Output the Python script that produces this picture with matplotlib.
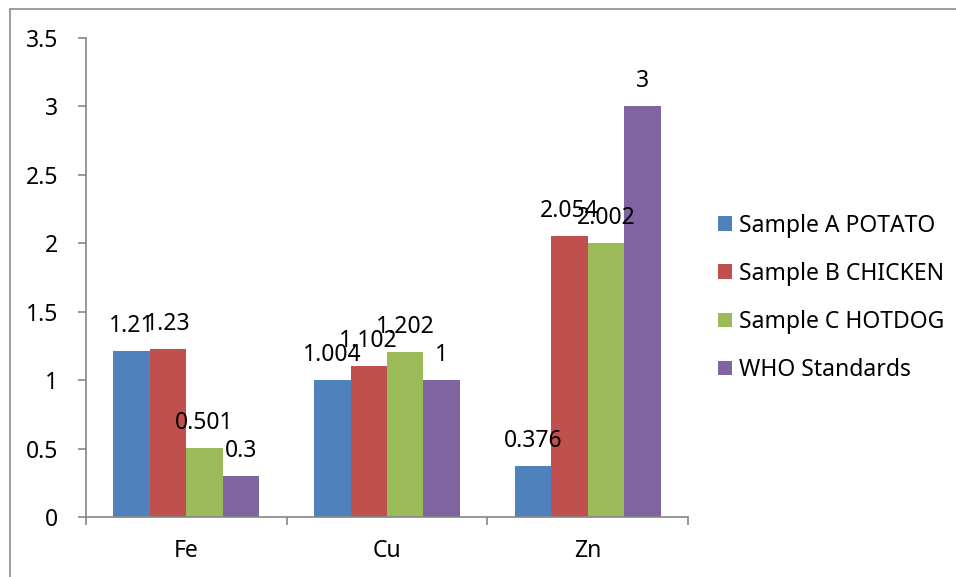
import matplotlib
matplotlib.use("Agg")
import matplotlib.pyplot as plt
import matplotlib.patches as mpatches
import numpy as np

plt.rcParams['font.family'] = ['Noto Sans', 'DejaVu Sans']

categories = ["Fe", "Cu", "Zn"]
series_names = ["Sample A POTATO", "Sample B CHICKEN", "Sample C HOTDOG", "WHO Standards"]
sample_a = [1.21, 1.004, 0.376]
sample_b = [1.23, 1.102, 2.054]
sample_c = [0.501, 1.202, 2.002]
who = [0.3, 1, 3]
labels_a = ["1.21", "1.004", "0.376"]
labels_b = ["1.23", "1.102", "2.054"]
labels_c = ["0.501", "1.202", "2.002"]
labels_who = ["0.3", "1", "3"]
colors = ["#4F81BD", "#C0504D", "#9BBB59", "#8064A2"]

all_series = [sample_a, sample_b, sample_c, who]
all_labels = [labels_a, labels_b, labels_c, labels_who]

fig = plt.figure(figsize=(9.56, 5.77), dpi=100)
ax = fig.add_axes([86/956, 1-517/577, (688-86)/956, (517-38)/577])

fs = 16.5
n = len(all_series)
w = 1.0 / (n + 1.5)
x = np.arange(len(categories))
handles = []
for i, (vals, labs, c, name) in enumerate(zip(all_series, all_labels, colors, series_names)):
    pos = x + (i - (n - 1) / 2) * w
    bars = ax.bar(pos, vals, width=w, color=c, label=name, edgecolor='none')
    handles.append(bars)
    for p, v, l in zip(pos, vals, labs):
        ax.annotate(l, (p, v), xytext=(0, 19), textcoords='offset pixels',
                    ha='center', va='baseline', fontsize=fs, color='black')

ax.set_xlim(-0.5, len(categories) - 0.5)
ax.set_ylim(0, 3.5)
ax.set_yticks(np.arange(0, 3.51, 0.5))
ax.set_yticklabels(["0", "0.5", "1", "1.5", "2", "2.5", "3", "3.5"])
ax.set_xticks(np.arange(-0.5, len(categories), 1.0))
ax.set_xticklabels([])
ax.set_xticks(x, minor=True)
ax.set_xticklabels(categories, minor=True)

spine_c = "#868686"
for s in ["top", "right"]:
    ax.spines[s].set_visible(False)
for s in ["left", "bottom"]:
    ax.spines[s].set_color(spine_c)
    ax.spines[s].set_linewidth(1.2)
ax.tick_params(axis='y', which='major', length=6, width=1.2, color=spine_c, labelsize=fs, pad=14)
ax.tick_params(axis='x', which='major', length=6, width=1.2, color=spine_c, direction='out')
ax.tick_params(axis='x', which='minor', length=0, labelsize=fs, pad=16)

leg = fig.legend(handles=handles, labels=series_names, loc='center left',
                 bbox_to_anchor=(718/956, 1-298/577), frameon=False, fontsize=fs,
                 handlelength=0.62, handleheight=0.62, handletextpad=0.3,
                 labelspacing=1.05, borderpad=0, borderaxespad=0)

border = mpatches.Rectangle((9.5/956, -0.05), 1.1, 1 - 8.5/577 + 0.05, transform=fig.transFigure,
                            fill=False, edgecolor="#8c8c8c", linewidth=1.2, clip_on=False)
fig.patches.append(border)

fig.savefig("out.png", dpi=100)
